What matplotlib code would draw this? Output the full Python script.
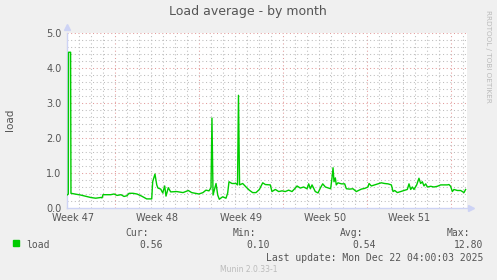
import numpy as np
import matplotlib
matplotlib.use('Agg')
import matplotlib.pyplot as plt
from matplotlib.patches import Rectangle

# data: days since the left edge of the plot, and load values
days = [0.00, 0.11, 0.13, 0.30, 0.33, 0.67, 1.14, 1.50, 1.98, 2.39, 2.81, 2.92,
        3.00, 3.64, 3.92, 4.17, 4.50, 4.75, 5.00, 5.17, 5.50, 5.83, 6.22, 6.64,
        7.06, 7.14, 7.33, 7.48, 7.58, 7.81, 7.98, 8.14, 8.25, 8.44, 8.64, 9.14,
        9.67, 10.11, 10.39, 11.00, 11.33, 11.58, 11.83, 12.00, 12.08, 12.17,
        12.42, 12.56, 12.69, 12.97, 13.25, 13.39, 13.50, 13.75, 14.08, 14.21,
        14.29, 14.38, 14.64, 14.92, 15.19, 15.47, 15.75, 16.03, 16.31, 16.53,
        16.94, 17.08, 17.36, 17.64, 17.92, 18.19, 18.47, 18.75, 19.03, 19.17,
        19.44, 19.72, 20.00, 20.14, 20.28, 20.42, 20.69, 20.92, 21.11, 21.31,
        21.53, 21.97, 22.08, 22.17, 22.25, 22.36, 22.44, 22.58, 22.86, 23.14,
        23.28, 23.56, 23.83, 24.11, 24.53, 24.81, 25.08, 25.17, 25.36, 25.64,
        25.92, 26.19, 26.47, 26.75, 27.03, 27.17, 27.31, 27.53, 27.81, 28.08,
        28.36, 28.50, 28.64, 28.78, 28.92, 29.14, 29.33, 29.47, 29.61, 29.75,
        29.89, 30.03, 30.31, 30.58, 30.86, 31.14, 31.69, 31.83, 31.97, 32.11,
        32.25, 32.53, 32.81, 33.08, 33.22]
load = [0.37, 0.40, 4.45, 4.45, 0.42, 0.40, 0.37, 0.34, 0.30, 0.28, 0.30, 0.29,
        0.38, 0.38, 0.40, 0.36, 0.38, 0.33, 0.35, 0.42, 0.42, 0.40, 0.34, 0.26,
        0.26, 0.75, 0.97, 0.66, 0.57, 0.54, 0.43, 0.63, 0.34, 0.58, 0.46, 0.47,
        0.44, 0.50, 0.44, 0.40, 0.44, 0.51, 0.49, 0.58, 2.57, 0.37,
        0.70, 0.37, 0.25, 0.32, 0.28, 0.43, 0.75, 0.70, 0.70, 0.66,
        3.22, 0.66, 0.70, 0.60, 0.51, 0.44, 0.44, 0.53, 0.72, 0.67,
        0.66, 0.47, 0.53, 0.47, 0.49, 0.47, 0.51, 0.47, 0.57, 0.63,
        0.57, 0.60, 0.55, 0.69, 0.55, 0.66, 0.47, 0.43, 0.57, 0.69,
        0.60, 0.55, 0.85, 1.15, 0.75, 0.86, 0.66, 0.72, 0.69, 0.69,
        0.55, 0.54, 0.55, 0.47, 0.54, 0.56, 0.60, 0.70, 0.63, 0.66,
        0.69, 0.72, 0.70, 0.69, 0.66, 0.47, 0.50, 0.44, 0.47, 0.50,
        0.53, 0.69, 0.53, 0.60, 0.53, 0.66, 0.85, 0.70, 0.75, 0.63,
        0.69, 0.60, 0.62, 0.60, 0.62, 0.66, 0.66, 0.67, 0.62, 0.47,
        0.53, 0.50, 0.50, 0.44, 0.53]

week_starts = [4, 11, 18, 25, 32]
week_labels = ['Week 47', 'Week 48', 'Week 49', 'Week 50', 'Week 51']
week_label_pos = [0.5, 7.5, 14.5, 21.5, 28.5]
y_ticks = [0.0, 1.0, 2.0, 3.0, 4.0, 5.0]

bg = '#f0f0f0'
txt = '#555555'
axis_col = '#cdd3f5'

fig = plt.figure(figsize=(4.97, 2.80), dpi=100, facecolor=bg)
W, H = 497.0, 280.0
ax = fig.add_axes([67 / W, 1 - 208 / H, 400 / W, 175 / H])
ax.set_facecolor('white')
ax.set_xlim(0, 400 / 12.0)
ax.set_ylim(0, 5.0)

# grid lines
dot = (0, (1, 2.5))
minor_col = '#bcbcbc'
major_col = '#e29a9a'
for d in range(1, 34):
    if d not in week_starts:
        ax.axvline(d, color=minor_col, lw=0.75, ls=dot, zorder=1)
for w in week_starts:
    ax.axvline(w, color=major_col, lw=0.75, ls=dot, zorder=1)
for v in np.arange(0.2, 5.01, 0.2):
    if abs(v - round(v)) > 1e-6:
        ax.axhline(v, color=minor_col, lw=0.75, ls=dot, zorder=1)
for v in y_ticks[1:]:
    ax.axhline(v, color=major_col, lw=0.75, ls=dot, zorder=1)

ax.plot(days, load, color='#00cc00', lw=1.0, zorder=3)

for s in ['top', 'right']:
    ax.spines[s].set_visible(False)
for s in ['left', 'bottom']:
    ax.spines[s].set_color(axis_col)
    ax.spines[s].set_linewidth(1.0)
ax.plot([0], [1.035], marker='^', color=axis_col, ms=4, transform=ax.transAxes, clip_on=False)
ax.plot([1.01], [0], marker='>', color=axis_col, ms=4, transform=ax.transAxes, clip_on=False)

ax.set_yticks(y_ticks)
ax.set_yticklabels(['%.1f' % v for v in y_ticks])
ax.set_xticks(week_label_pos)
ax.set_xticklabels(week_labels)
ax.tick_params(axis='both', length=0, colors=txt, labelsize=7)
ax.tick_params(axis='y', pad=4)
ax.tick_params(axis='x', pad=3.5)

fig.text(248 / W, 1 - 12 / H, 'Load average - by month', ha='center', va='center',
         color=txt, fontsize=9)
fig.text(10 / W, 1 - 120 / H, 'load', rotation=90, ha='center', va='center',
         color=txt, fontsize=7.5)
fig.text(488 / W, 1 - 56 / H, 'RRDTOOL / TOBI OETIKER', rotation=270, ha='center',
         va='center', color='#bbbbbb', fontsize=5.2)

mono = 'DejaVu Sans Mono'
fig.patches.append(Rectangle((13 / W, 1 - 246 / H), 6 / W, 6 / H,
                             transform=fig.transFigure, color='#00cc00'))
fig.text(26 / W, 1 - 245 / H, 'load', family=mono, color=txt, fontsize=7, va='center')
heads = ['Cur:', 'Min:', 'Avg:', 'Max:']
head_x = [149, 256, 363, 470]
vals = ['0.56', '0.10', '0.54', '12.80']
val_x = [163, 270, 376, 483]
for h, hx in zip(heads, head_x):
    fig.text(hx / W, 1 - 233 / H, h, family=mono, color=txt, fontsize=7,
             ha='right', va='center')
for v, vx in zip(vals, val_x):
    fig.text(vx / W, 1 - 245 / H, v, family=mono, color=txt, fontsize=7,
             ha='right', va='center')
fig.text(483 / W, 1 - 258 / H, 'Last update: Mon Dec 22 04:00:03 2025', family=mono,
         color=txt, fontsize=7, ha='right', va='center')
fig.text(249 / W, 1 - 270 / H, 'Munin 2.0.33-1', color='#bbbbbb', fontsize=5.5,
         ha='center', va='center')

fig.savefig('out.png', dpi=100, facecolor=bg)
